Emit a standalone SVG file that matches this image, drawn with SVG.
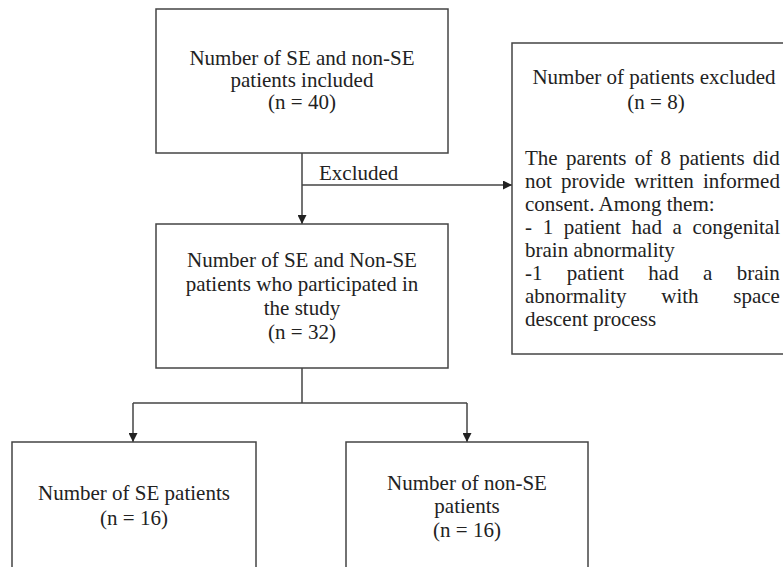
<svg xmlns="http://www.w3.org/2000/svg" width="783" height="567" viewBox="0 0 783 567">
<style>
.box{fill:#fff;stroke:#444;stroke-width:1.5}
.ln{fill:none;stroke:#444;stroke-width:1.5}
text{font-family:"Liberation Serif","Times New Roman",serif;font-size:21px;fill:#222}
.c{text-anchor:middle}
</style>
<defs>
<marker id="ah" viewBox="0 0 10 10" refX="10" refY="5" markerWidth="9" markerHeight="9" markerUnits="userSpaceOnUse" orient="auto">
<path d="M0,0 L10,5 L0,10 z" fill="#222"/>
</marker>
</defs>
<rect width="783" height="567" fill="#fff"/>
<g id="connectors">
<path class="ln" d="M302,153 V224" marker-end="url(#ah)"/>
<path class="ln" d="M302,185 H512" marker-end="url(#ah)"/>
<text x="319" y="180">Excluded</text>
<path class="ln" d="M302,368 V403"/>
<path class="ln" d="M133,403 H467"/>
<path class="ln" d="M133,403 V442" marker-end="url(#ah)"/>
<path class="ln" d="M467,403 V442" marker-end="url(#ah)"/>
</g>
<g id="included">
<rect class="box" x="156" y="9" width="292" height="144"/>
<text class="c" x="302" y="65">Number of SE and non-SE</text>
<text class="c" x="302" y="87">patients included</text>
<text class="c" x="302" y="109">(n = 40)</text>
</g>
<g id="excluded">
<rect class="box" x="512" y="43" width="290" height="311"/>
<text class="c" x="654" y="84">Number of patients excluded</text>
<text class="c" x="656" y="109">(n = 8)</text>
<text x="525" y="165" style="word-spacing:3px">The parents of 8 patients did</text>
<text x="525" y="188" style="word-spacing:3.9px">not provide written informed</text>
<text x="525" y="211">consent. Among them:</text>
<text x="525" y="234" style="word-spacing:5.4px">- 1 patient had a congenital</text>
<text x="525" y="257">brain abnormality</text>
<text x="525" y="280" style="word-spacing:19.1px">-1 patient had a brain</text>
<text x="525" y="303" style="word-spacing:29.5px">abnormality with space</text>
<text x="525" y="326">descent process</text>
</g>
<g id="participated">
<rect class="box" x="156" y="224" width="292" height="144"/>
<text class="c" x="302" y="267">Number of SE and Non-SE</text>
<text class="c" x="302" y="291">patients who participated in</text>
<text class="c" x="302" y="315">the study</text>
<text class="c" x="302" y="339">(n = 32)</text>
</g>
<g id="se">
<rect class="box" x="12" y="442" width="244" height="140"/>
<text class="c" x="134" y="500">Number of SE patients</text>
<text class="c" x="134" y="525">(n = 16)</text>
</g>
<g id="nonse">
<rect class="box" x="346" y="442" width="242" height="140"/>
<text class="c" x="467" y="490">Number of non-SE</text>
<text class="c" x="467" y="513">patients</text>
<text class="c" x="467" y="537">(n = 16)</text>
</g>
</svg>
